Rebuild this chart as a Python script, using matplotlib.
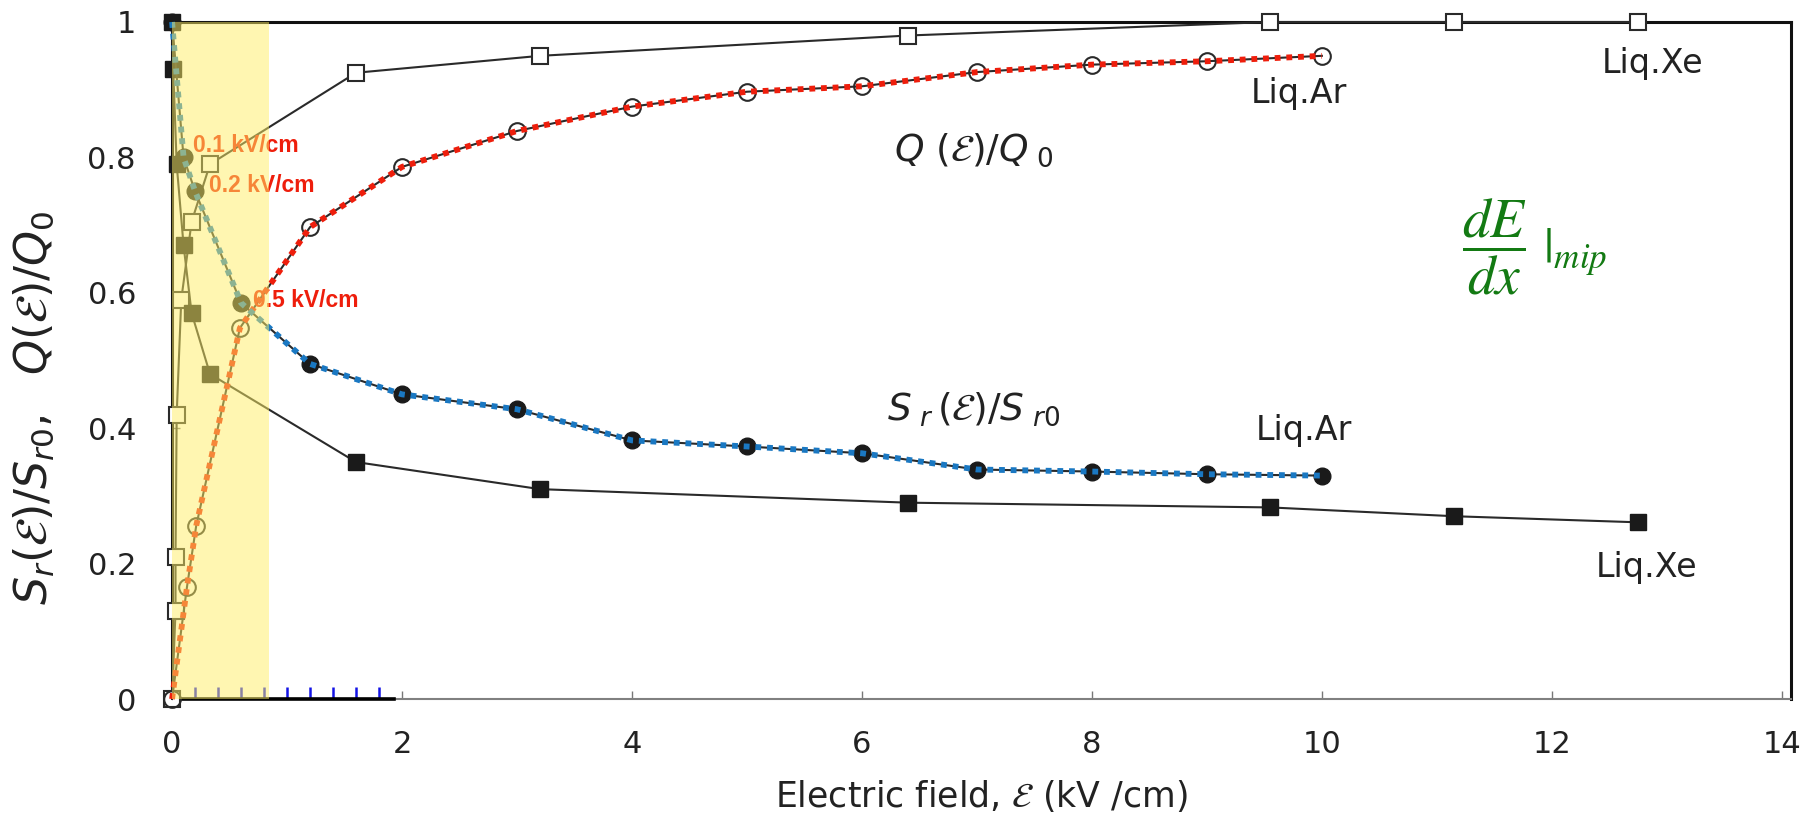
import matplotlib
matplotlib.use("Agg")
import matplotlib.pyplot as plt
from matplotlib.ticker import FixedLocator

plt.rcParams["font.family"] = ["DejaVu Sans"]
plt.rcParams["mathtext.fontset"] = "dejavusans"

# Liq.Xe, open squares : Q(E)/Q0
xe_q_x = [0, 0.03, 0.03, 0.04, 0.08, 0.17, 0.33, 1.6, 3.2, 6.4, 9.55, 11.15, 12.75]
xe_q_y = [0, 0.13, 0.21, 0.42, 0.59, 0.705, 0.79, 0.925, 0.95, 0.98, 1.0, 1.0, 1.0]
# Liq.Xe, filled squares : Sr(E)/Sr0
xe_s_x = [0, 0.01, 0.04, 0.1, 0.17, 0.33, 1.6, 3.2, 6.4, 9.55, 11.15, 12.75]
xe_s_y = [1.0, 0.93, 0.79, 0.67, 0.57, 0.48, 0.35, 0.31, 0.29, 0.283, 0.27, 0.261]
# Liq.Ar, filled circles : Sr(E)/Sr0
ar_s_x = [0, 0.1, 0.2, 0.6, 1.2, 2, 3, 4, 5, 6, 7, 8, 9, 10]
ar_s_y = [1.0, 0.80, 0.75, 0.585, 0.495, 0.45, 0.428, 0.382, 0.373, 0.363, 0.339, 0.336, 0.332, 0.330]
# Liq.Ar, open circles : Q(E)/Q0
ar_q_x = [0, 0.13, 0.21, 0.59, 1.2, 2, 3, 4, 5, 6, 7, 8, 9, 10]
ar_q_y = [0, 0.166, 0.256, 0.548, 0.697, 0.786, 0.839, 0.875, 0.897, 0.905, 0.926, 0.937, 0.942, 0.950]

x_ticks = [0, 2, 4, 6, 8, 10, 12, 14]
y_ticks = [0, 0.2, 0.4, 0.6, 0.8, 1.0]
y_tick_labels = ["0", "0.2", "0.4", "0.6", "0.8", "1"]
blue_ticks = [0.2, 0.4, 0.6, 0.8, 1.0, 1.2, 1.4, 1.6, 1.8]
field_labels = ["0.1 kV/cm", "0.2 kV/cm", "0.5 kV/cm"]
span_end = 0.84

line_col = "#2a2a2a"
red = "#EE1E0C"
blue = "#1A78C2"
txt_col = "#222222"
green = "#137A13"

fig = plt.figure(figsize=(18.17, 8.17), dpi=100)
ax = fig.add_axes([0.0947, 0.1444, 0.891, 0.8287])

ax.plot(xe_q_x, xe_q_y, color=line_col, lw=1.5, marker="s", ms=12, mfc="white",
        mec=line_col, mew=1.5, clip_on=False, zorder=3)
ax.plot(xe_s_x, xe_s_y, color=line_col, lw=1.5, marker="s", ms=12, mfc="#1a1a1a",
        mec="#1a1a1a", clip_on=False, zorder=3)
ax.plot(ar_q_x, ar_q_y, color=line_col, lw=1.5, marker="o", ms=12, mfc="none",
        mec=line_col, mew=1.5, clip_on=False, zorder=3)
ax.plot(ar_s_x, ar_s_y, color=line_col, lw=1.5, marker="o", ms=12, mfc="#1a1a1a",
        mec="#1a1a1a", clip_on=False, zorder=3)

# coloured dotted overlays on the Ar curves
ax.plot(ar_q_x, ar_q_y, color=red, lw=4.2, dashes=(1.0, 1.0), dash_capstyle="butt",
        clip_on=False, zorder=4)
ax.plot(ar_s_x, ar_s_y, color=blue, lw=4.2, dashes=(1.0, 1.0), dash_capstyle="butt",
        clip_on=False, zorder=4)

lab_font = ["Liberation Sans", "DejaVu Sans"]
ax.text(0.18, 0.818, field_labels[0], color=red, fontsize=16.5, fontweight="bold",
        family=lab_font, va="center", zorder=5)
ax.text(0.32, 0.759, field_labels[1], color=red, fontsize=16.5, fontweight="bold",
        family=lab_font, va="center", zorder=5)
ax.text(0.70, 0.589, field_labels[2], color=red, fontsize=16.5, fontweight="bold",
        family=lab_font, va="center", zorder=5)

ax.text(12.88, 0.938, "Liq.Xe", fontsize=24, color=txt_col, ha="center", va="center")
ax.text(9.8, 0.895, "Liq.Ar", fontsize=24, color=txt_col, ha="center", va="center")
ax.text(9.84, 0.396, "Liq.Ar", fontsize=24, color=txt_col, ha="center", va="center")
ax.text(12.82, 0.194, "Liq.Xe", fontsize=24, color=txt_col, ha="center", va="center")
ax.text(6.97, 0.81, r"$Q\ (\mathcal{E})/Q_{\ 0}$", fontsize=27, color=txt_col,
        ha="center", va="center")
ax.text(6.97, 0.428, r"$S_{\ r}\,(\mathcal{E})/S_{\ r0}$", fontsize=27, color=txt_col,
        ha="center", va="center")

ax.text(11.5, 0.668, r"$\dfrac{dE}{dx}$", fontsize=40, color=green,
        math_fontfamily="stix", ha="center", va="center")
ax.text(11.92, 0.645, r"$|_{mip}$", fontsize=36, color=green,
        math_fontfamily="stix", ha="left", va="baseline")

# highlighted low-field region, drawn on top
ax.axvspan(0, span_end, color="#FFEE64", alpha=0.5, lw=0, zorder=10)

ax.set_xlim(0, 14.08)
ax.set_ylim(0, 1)
ax.set_xticks(x_ticks)
ax.set_yticks(y_ticks)
ax.set_yticklabels(y_tick_labels)
ax.xaxis.set_minor_locator(FixedLocator(blue_ticks))
ax.tick_params(which="major", direction="in", length=6, width=1, color="#777777",
               labelsize=22, labelcolor=txt_col)
ax.tick_params(axis="y", which="major", pad=26)
ax.tick_params(axis="x", which="major", pad=22)
ax.tick_params(which="minor", direction="in", length=9, width=1.8, color="#1414E6")

for side in ["top", "right", "left"]:
    ax.spines[side].set_linewidth(2.2)
    ax.spines[side].set_color("#111111")
ax.spines["bottom"].set_linewidth(1.5)
ax.spines["bottom"].set_color("#808080")
ax.plot([0, 1.93], [0, 0], color="black", lw=2.6, clip_on=False, zorder=2.6)

ax.set_xlabel(r"Electric field, $\mathcal{E}$ (kV /cm)", fontsize=25, color=txt_col,
              labelpad=14)
ax.set_ylabel(r"$S_r(\mathcal{E})/S_{r0},\ \ Q(\mathcal{E})/Q_0$", fontsize=32,
              color=txt_col)
ax.yaxis.set_label_coords(-0.072, 0.43)

fig.savefig("out.png", dpi=100)
